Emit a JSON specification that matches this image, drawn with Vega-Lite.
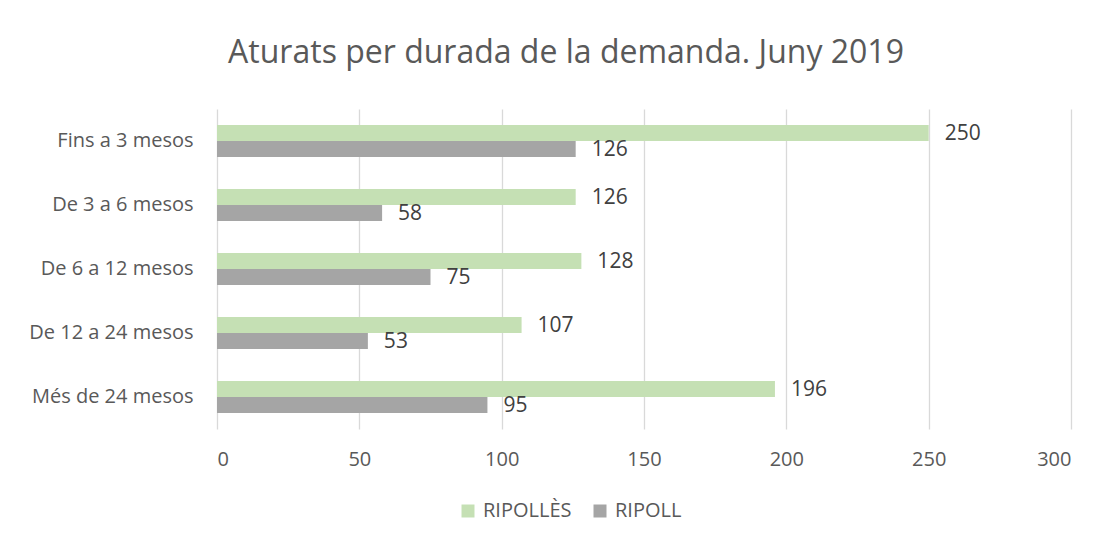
{
  "$schema": "https://vega.github.io/schema/vega-lite/v6.json",
  "autosize": {"type": "none"},
  "width": 854,
  "height": 320,
  "padding": {"left": 217, "top": 109, "right": 39, "bottom": 115},
  "background": "white",
  "title": {
    "text": "Aturats per durada de la demanda. Juny 2019",
    "font": "Open Sans",
    "fontSize": 32,
    "fontWeight": "normal",
    "color": "#595959",
    "anchor": "middle",
    "dx": -78,
    "offset": 39
  },
  "data": {
    "values": [
      {"cat": "Fins a 3 mesos", "serie": "RIPOLLÈS", "value": 250},
      {"cat": "Fins a 3 mesos", "serie": "RIPOLL", "value": 126},
      {"cat": "De 3 a 6 mesos", "serie": "RIPOLLÈS", "value": 126},
      {"cat": "De 3 a 6 mesos", "serie": "RIPOLL", "value": 58},
      {"cat": "De 6 a 12 mesos", "serie": "RIPOLLÈS", "value": 128},
      {"cat": "De 6 a 12 mesos", "serie": "RIPOLL", "value": 75},
      {"cat": "De 12 a 24 mesos", "serie": "RIPOLLÈS", "value": 107},
      {"cat": "De 12 a 24 mesos", "serie": "RIPOLL", "value": 53},
      {"cat": "Més de 24 mesos", "serie": "RIPOLLÈS", "value": 196},
      {"cat": "Més de 24 mesos", "serie": "RIPOLL", "value": 95}
    ]
  },
  "encoding": {
    "y": {
      "field": "cat",
      "type": "nominal",
      "sort": null,
      "title": null,
      "scale": {"paddingInner": 0.5, "paddingOuter": 0.25},
      "axis": {
        "domain": false,
        "ticks": false,
        "labelPadding": 24,
        "labelFont": "Open Sans",
        "labelFontSize": 20,
        "labelColor": "#595959"
      }
    },
    "yOffset": {
      "field": "serie",
      "type": "nominal",
      "sort": ["RIPOLLÈS", "RIPOLL"],
      "scale": {"paddingInner": 0, "paddingOuter": 0}
    },
    "x": {
      "field": "value",
      "type": "quantitative",
      "title": null,
      "scale": {"domain": [0, 300], "nice": false},
      "axis": {
        "values": [0, 50, 100, 150, 200, 250, 300],
        "domain": false,
        "ticks": false,
        "grid": true,
        "gridColor": "#d9d9d9",
        "gridWidth": 1.3,
        "labelPadding": 20,
        "labelFont": "Open Sans",
        "labelFontSize": 20,
        "labelColor": "#595959"
      }
    }
  },
  "layer": [
    {
      "mark": {"type": "bar"},
      "encoding": {
        "color": {
          "field": "serie",
          "type": "nominal",
          "sort": ["RIPOLLÈS", "RIPOLL"],
          "scale": {"domain": ["RIPOLLÈS", "RIPOLL"], "range": ["#c5e0b4", "#a5a5a5"]},
          "legend": {
            "title": null,
            "orient": "none",
            "direction": "horizontal",
            "legendX": 241,
            "legendY": 392,
            "symbolType": "square",
            "symbolSize": 169,
            "symbolStrokeWidth": 0,
            "labelFont": "Open Sans",
            "labelFontSize": 20,
            "labelColor": "#595959",
            "columnPadding": 18,
            "labelOffset": 5
          }
        }
      }
    },
    {
      "mark": {
        "type": "text",
        "align": "left",
        "baseline": "middle",
        "dx": 16,
        "dy": 1,
        "font": "Open Sans",
        "fontSize": 21,
        "color": "#404040"
      },
      "encoding": {
        "text": {"field": "value", "type": "quantitative"}
      }
    }
  ],
  "config": {"view": {"stroke": null}}
}
